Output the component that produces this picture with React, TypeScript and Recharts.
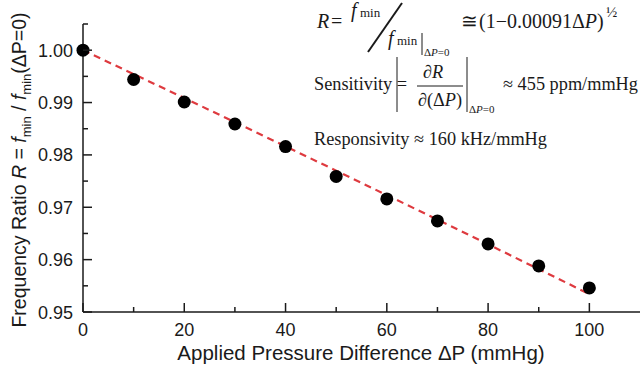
import React from 'react';
import { ComposedChart, Scatter, Line, XAxis, YAxis } from 'recharts';

// applied pressure difference (mmHg)
const pressures = [0, 10, 20, 30, 40, 50, 60, 70, 80, 90, 100];
// measured frequency ratio R
const ratios = [1.0, 0.9944, 0.9901, 0.9859, 0.9816, 0.9759, 0.9716, 0.9674, 0.963, 0.9588, 0.9546];
// fitted curve (1 - 0.00091 dP)^1/2, read at each point
const fitted = [1.0, 0.99544, 0.99086, 0.98625, 0.98163, 0.97699, 0.97232, 0.96763, 0.96292, 0.95818, 0.95342];

const xTicks = [0, 10, 20, 30, 40, 50, 60, 70, 80, 90, 100];
const yTicks = [0.95, 0.955, 0.96, 0.965, 0.97, 0.975, 0.98, 0.985, 0.99, 0.995, 1.0, 1.005];

const data = pressures.map((p, i) => ({ p, r: ratios[i], fit: fitted[i] }));

const sans = '"Liberation Sans", Arial, sans-serif';
const serif = '"Liberation Serif", "Times New Roman", serif';
const ink = '#1a1a1a';

const XTick = (props: any) => {
  const { x, y, payload } = props;
  const major = payload.value % 20 === 0;
  return (
    <g>
      <line x1={x} x2={x} y1={y} y2={y - (major ? 9 : 5)} stroke={ink} strokeWidth={1.5} />
      {major && (
        <text x={x} y={y + 24} textAnchor="middle" fontSize={18} fontFamily={sans} fill={ink}>
          {payload.value}
        </text>
      )}
    </g>
  );
};

const YTick = (props: any) => {
  const { x, y, payload } = props;
  const major = Math.round(payload.value * 1000) % 10 === 0;
  return (
    <g>
      <line x1={x} x2={x + (major ? 9 : 5)} y1={y} y2={y} stroke={ink} strokeWidth={1.5} />
      {major && (
        <text x={x - 10} y={y + 6.5} textAnchor="end" fontSize={18} fontFamily={sans} fill={ink}>
          {payload.value.toFixed(2)}
        </text>
      )}
    </g>
  );
};

const Dot = (props: any) => {
  const { cx, cy } = props;
  return <circle cx={cx} cy={cy} r={6.5} fill="#000" />;
};

function Annotations() {
  return (
    <svg
      width={641}
      height={371}
      style={{ position: 'absolute', left: 0, top: 0, pointerEvents: 'none' }}
    >
      {/* y axis title */}
      <text
        transform="translate(26,170) rotate(-90)"
        textAnchor="middle"
        fontSize={19.5}
        fontFamily={sans}
        fill={ink}
      >
        Frequency Ratio <tspan fontStyle="italic">R</tspan> = <tspan fontStyle="italic">f</tspan>
        <tspan fontSize={13} dy={5}>min</tspan>
        <tspan dy={-5}> / </tspan>
        <tspan fontStyle="italic">f</tspan>
        <tspan fontSize={13} dy={5}>min</tspan>
        <tspan dy={-5}>(ΔP=0)</tspan>
      </text>
      {/* x axis title */}
      <text x={361} y={360} textAnchor="middle" fontSize={20.5} fontFamily={sans} fill={ink}>
        Applied Pressure Difference ΔP (mmHg)
      </text>

      <g fontFamily={serif} fill={ink}>
        {/* line 1 */}
        <text x={317} y={28} fontSize={20} fontStyle="italic">R</text>
        <text x={331} y={28} fontSize={20}>=</text>
        <text x={351} y={17} fontSize={20} fontStyle="italic">f</text>
        <text x={360} y={17} fontSize={13}>min</text>
        <line x1={402} y1={3} x2={368} y2={52} stroke={ink} strokeWidth={2} />
        <text x={388} y={45} fontSize={20} fontStyle="italic">f</text>
        <text x={397} y={45} fontSize={13}>min</text>
        <line x1={422} y1={33} x2={422} y2={55} stroke={ink} strokeWidth={1} />
        <text x={424} y={56} fontSize={11}>
          Δ<tspan fontStyle="italic">P</tspan>=0
        </text>
        <text x={461} y={28} fontSize={20}>≅</text>
        <text x={479} y={28} fontSize={20}>
          (1−0.00091Δ<tspan fontStyle="italic">P</tspan>)
        </text>
        <text x={606} y={17} fontSize={15}>½</text>

        {/* line 2 */}
        <text x={314} y={90} fontSize={18.3}>Sensitivity =</text>
        <line x1={397} y1={57} x2={397} y2={112} stroke={ink} strokeWidth={1} />
        <text x={433} y={78} fontSize={18.3} textAnchor="middle">
          ∂<tspan fontStyle="italic">R</tspan>
        </text>
        <line x1={417} y1={86} x2={463} y2={86} stroke={ink} strokeWidth={1} />
        <text x={440} y={106} fontSize={18.3} textAnchor="middle">
          ∂(Δ<tspan fontStyle="italic">P</tspan>)
        </text>
        <line x1={467} y1={57} x2={467} y2={112} stroke={ink} strokeWidth={1} />
        <text x={469} y={113} fontSize={11}>
          Δ<tspan fontStyle="italic">P</tspan>=0
        </text>
        <text x={503} y={90} fontSize={18.3}>≈ 455 ppm/mmHg</text>

        {/* line 3 */}
        <text x={314} y={145} fontSize={18.3}>Responsivity ≈ 160 kHz/mmHg</text>
      </g>
    </svg>
  );
}

export default function App() {
  return (
    <div style={{ position: 'absolute', left: 0, top: 0, width: 641, height: 371, background: '#fff' }}>
      <ComposedChart width={641} height={371} data={data} margin={{ top: 24, right: 1, bottom: 0, left: 0 }}>
        <XAxis
          dataKey="p"
          type="number"
          domain={[0, 110]}
          ticks={xTicks}
          height={59}
          tickSize={0}
          tickMargin={0}
          tick={<XTick />}
          stroke={ink}
          strokeWidth={1.5}
          interval={0}
        />
        <YAxis
          type="number"
          domain={[0.95, 1.005]}
          ticks={yTicks}
          width={83}
          tickSize={0}
          tickMargin={0}
          tick={<YTick />}
          stroke={ink}
          strokeWidth={1.5}
          interval={0}
          allowDataOverflow
        />
        <Scatter dataKey="r" shape={<Dot />} isAnimationActive={false} />
        <Line
          dataKey="fit"
          type="monotone"
          stroke="#de3a3f"
          strokeWidth={2.2}
          strokeDasharray="7 5"
          dot={false}
          activeDot={false}
          isAnimationActive={false}
        />
      </ComposedChart>
      <Annotations />
    </div>
  );
}
